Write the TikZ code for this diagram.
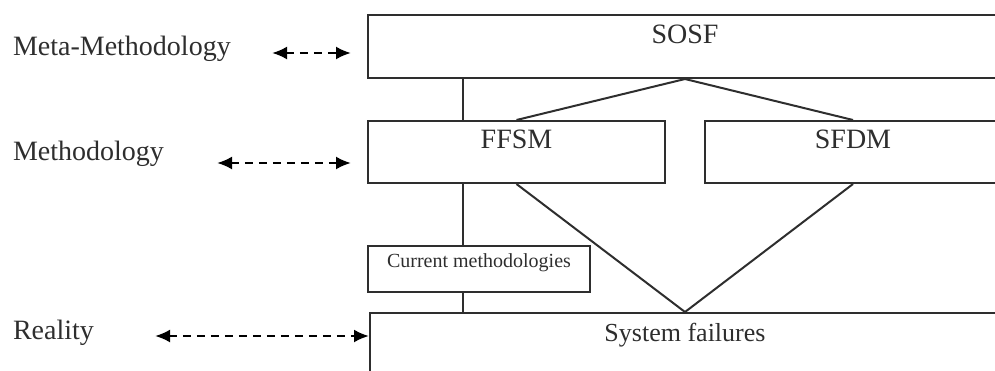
\documentclass[tikz,border=0pt]{standalone}
\usepackage{fontspec}
\setmainfont{Liberation Serif}
\usetikzlibrary{arrows.meta,positioning,calc}
\definecolor{ink}{HTML}{2E2E2E}
\tikzset{
every picture/.style={
line width=1pt
}}
\tikzset{
  layerbox/.style 2 args={
    draw=ink, rectangle, inner sep=0pt,
    minimum width=#1, minimum height=#2
  },
  boxtitle/.style={
    inner sep=0pt, text=ink, font=\fontsize{14}{16}\selectfont
  },
  levellabel/.style={
    anchor=base west, inner sep=0pt, text=ink,
    font=\fontsize{14}{16}\selectfont
  },
  levelarrow/.style={
    draw=black, line width=1.2pt, dash pattern=on 4pt off 3pt,
    {Latex[length=7.5pt,width=6.5pt]}-{Latex[length=7.5pt,width=6.5pt]}
  },
  link/.style={draw=ink}
}

\begin{document}
\begin{tikzpicture}[x=0.5pt,y=-0.5pt]
  \clip (0,0) rectangle (995,370);

  % boxes, right and bottom run past the edge
  \node[layerbox={317pt}{31.5pt},
        label={[boxtitle,anchor=north,yshift=-5pt]north:SOSF}] (sosf) at (685,46.5) {};
  \node[layerbox={148.5pt}{31pt},
        label={[boxtitle,anchor=north,yshift=-4.5pt]north:FFSM}] (ffsm) at (516.5,152) {};
  \node[layerbox={148pt}{31pt},
        label={[boxtitle,anchor=north,yshift=-4.5pt]north:SFDM}] (sfdm) at (853,152) {};
  \node[layerbox={111pt}{23pt},
        label={[boxtitle,anchor=north,yshift=-4pt,font=\fontsize{10}{12}\selectfont]north:Current methodologies}] (cur) at (479,269) {};
  \node[layerbox={315pt}{47pt},
        label={[boxtitle,anchor=north,yshift=-5pt,font=\fontsize{13}{15}\selectfont]north:System failures}] (sys) at (685,360) {};

  % level names
  \node[levellabel] (meta) at (12,55) {Meta-Methodology};
  \node[levellabel] (meth) at (12,160) {Methodology};
  \node[levellabel] (real) at (12,339) {Reality};

  \coordinate (spine) at (463,0);
  \coordinate (meta0) at (272,53);
  \coordinate (meth0) at (217,163);
  \coordinate (real0) at (155,336);

  % spine through the levels
  \draw[link] (sosf.south -| spine) -- (ffsm.north -| spine);
  \draw[link] (ffsm.south -| spine) -- (cur.north -| spine);
  \draw[link] (cur.south -| spine) -- (sys.north -| spine);

  \draw[link] (sosf.south) -- (ffsm.north);
  \draw[link] (sosf.south) -- (sfdm.north);
  \draw[link] (ffsm.south) -- (sys.north);
  \draw[link] (sfdm.south) -- (sys.north);

  \draw[levelarrow] (meta0) -- ($(sosf.west |- meta0)+(-8pt,0)$);
  \draw[levelarrow] (meth0) -- ($(ffsm.west |- meth0)+(-8pt,0)$);
  \draw[levelarrow] (real0) -- (sys.west |- real0);
\end{tikzpicture}
\end{document}
